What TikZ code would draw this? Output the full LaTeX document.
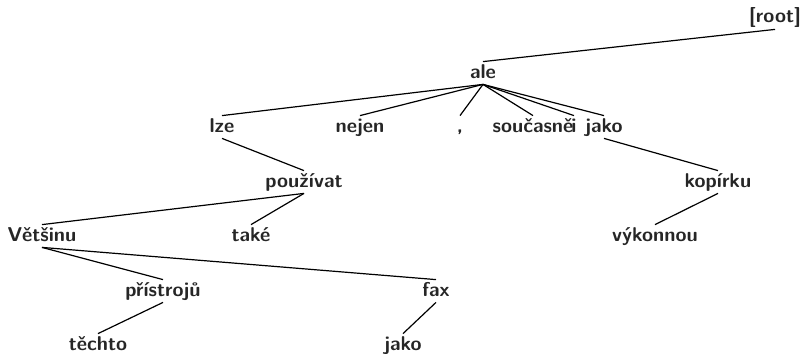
\documentclass[tikz,border=0pt]{standalone}
\usepackage{tikz}
\tikzset{
  tok/.style ={font=\sffamily\bfseries, text=black!85, anchor=base, inner xsep=1pt, inner ysep=1.5pt,
               text height=6.5pt, text depth=1.5pt},
  dep/.style ={line width=0.6pt},
}

\begin{document}
\begin{tikzpicture}[x=0.5pt, y=-0.5pt]
  \useasboundingbox (0,0) rectangle (801,353);

  % ---------- tokens, one row per tree level ----------
  \node[tok] (root)      at (775,23)  {[root]};
  \node[tok] (ale)       at (483,78)  {ale};

  \node[tok] (lze)       at (222,132) {lze};
  \node[tok] (nejen)     at (360,132) {nejen};
  \node[tok] (comma)     at (460,132) {,};
  \node[tok] (soucasne)  at (533,132) {současně};
  \node[tok] (i)         at (574,132) {i};
  \node[tok] (jako)      at (604,132) {jako};

  \node[tok] (pouzivat)  at (304,187) {používat};
  \node[tok] (kopirku)   at (718,187) {kopírku};

  \node[tok] (vetsinu)   at (42,241)  {Většinu};
  \node[tok] (take)      at (251,241) {také};
  \node[tok] (vykonnou)  at (655,241) {výkonnou};

  \node[tok] (pristroju) at (163,296) {přístrojů};
  \node[tok] (fax)       at (436,296) {fax};

  \node[tok] (techto)    at (98,350)  {těchto};
  \node[tok] (jakob)     at (403,350) {jako};

  % ---------- dependencies ----------
  \draw[dep] (root.south) -- (ale.north);
  \foreach \d in {lze,nejen,comma,soucasne,i,jako}
    \draw[dep] (ale.south) -- (\d.north);
  \draw[dep] (lze.south) -- (pouzivat.north);
  \draw[dep] (jako.south) -- (kopirku.north);
  \draw[dep] (kopirku.south) -- (vykonnou.north);
  \draw[dep] (pouzivat.south) -- (vetsinu.north);
  \draw[dep] (pouzivat.south) -- (take.north);
  \draw[dep] (vetsinu.south) -- (pristroju.north);
  \draw[dep] (vetsinu.south) -- (fax.north);
  \draw[dep] (pristroju.south) -- (techto.north);
  \draw[dep] (fax.south) -- (jakob.north);
\end{tikzpicture}
\end{document}
